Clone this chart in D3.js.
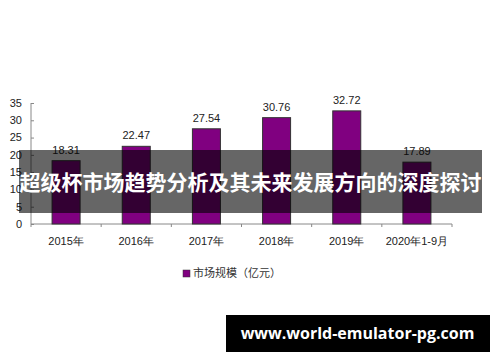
<!DOCTYPE html>
<html><head><meta charset="utf-8">
<script src="https://cdn.jsdelivr.net/npm/d3@7"></script>
<style>body{margin:0;background:#fff}svg{display:block}</style>
</head><body>
<script>
const categories = ["2015年","2016年","2017年","2018年","2019年","2020年1-9月"];
const values = [18.31, 22.47, 27.54, 30.76, 32.72, 17.89];
const yTicks = [0,5,10,15,20,25,30,35];
const seriesName = "市场规模（亿元）";
const title = "超级杯市场趋势分析及其未来发展方向的深度探讨";
const watermark = "www.world-emulator-pg.com";

const W = 500, H = 362;
const svg = d3.select("body").append("svg").attr("width", W).attr("height", H);
const xb = d3.scaleBand().domain(categories).range([31, 452]);
const y = d3.scaleLinear().domain([0, 35]).range([224, 103]);
const font = "Liberation Sans, Arial, sans-serif";

// y axis
const ya = svg.append("g").attr("transform","translate(31,0)")
  .call(d3.axisRight(y).tickValues(yTicks).tickSize(3).tickFormat(""));
ya.select(".domain").attr("stroke","#888").attr("d","M0,103V224");
ya.selectAll(".tick line").attr("stroke","#888");
svg.append("g").selectAll("text").data(yTicks).join("text")
  .attr("x", 22).attr("y", d => y(d)).attr("dy","0.35em").attr("text-anchor","end")
  .attr("font-family", font).attr("font-size", 11).attr("fill","#222").text(d => d);

// x axis
const xa = svg.append("g").attr("transform","translate(0,224)");
xa.append("line").attr("x1",31).attr("x2",452).attr("stroke","#888");
xa.selectAll("line.t").data(categories.map(c=>xb(c)+xb.bandwidth()).concat([31])).join("line")
  .attr("class","t").attr("x1",d=>d).attr("x2",d=>d).attr("y1",0).attr("y2",3).attr("stroke","#888");
xa.selectAll("text").data(categories).join("text")
  .attr("x", d => xb(d)+xb.bandwidth()/2).attr("y", 17).attr("dy","0.35em")
  .attr("text-anchor","middle").attr("font-family", font).attr("font-size", 11).attr("fill","#222").text(d=>d);

// bars
svg.append("g").selectAll("rect").data(values).join("rect")
  .attr("x", (d,i) => xb(categories[i]) + xb.bandwidth()/2 - 14)
  .attr("width", 28)
  .attr("y", d => y(d)).attr("height", d => y(0)-y(d))
  .attr("fill","#800080").attr("stroke","#333").attr("stroke-width",1);
svg.append("g").selectAll("text").data(values).join("text")
  .attr("x", (d,i) => xb(categories[i]) + xb.bandwidth()/2)
  .attr("y", d => y(d) - 11).attr("dy","0.35em").attr("text-anchor","middle")
  .attr("font-family", font).attr("font-size", 11).attr("fill","#222").text(d => d.toFixed(2));

// legend
svg.append("rect").attr("x",183).attr("y",270).attr("width",7).attr("height",7).attr("fill","#800080").attr("stroke","#333").attr("stroke-width",0.5);
svg.append("text").attr("x",193).attr("y",273.5).attr("dy","0.35em").attr("font-family","Noto Sans CJK SC, sans-serif")
  .attr("font-size",11).attr("fill","#333").text(seriesName);

// title overlay
svg.append("rect").attr("x",19).attr("y",150).attr("width",463).attr("height",63).attr("fill","rgba(0,0,0,0.6)");
svg.append("text").attr("x",250.5).attr("y",183).attr("dy","0.35em").attr("text-anchor","middle")
  .attr("font-family","Noto Sans CJK SC, sans-serif").attr("font-weight","bold").attr("font-size",21)
  .attr("fill","#fff").text(title);

// watermark
svg.append("rect").attr("x",226).attr("y",315).attr("width",264).attr("height",37).attr("fill","#000");
svg.append("text").attr("x",357.5).attr("y",333.5).attr("dy","0.35em").attr("text-anchor","middle")
  .attr("font-family","Open Sans, sans-serif").attr("font-weight","bold").attr("font-size",16)
  .attr("fill","#fff").text(watermark);
</script>
</body></html>
